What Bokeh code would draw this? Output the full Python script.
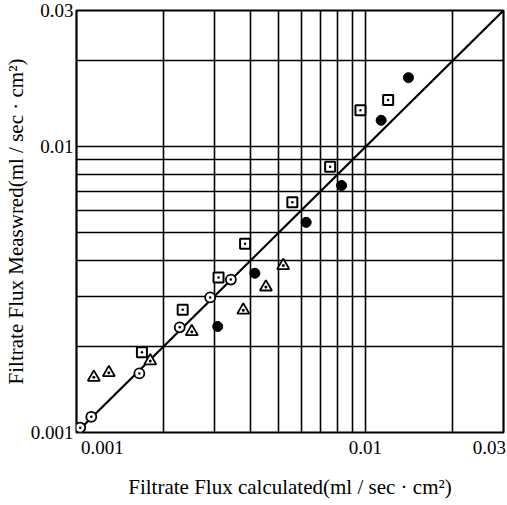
from bokeh.plotting import figure
from bokeh.models import FixedTicker, CustomJSTickFormatter
from bokeh.embed import file_html
from bokeh.resources import INLINE

# ---------------- data ----------------
open_circle_x = [0.00103, 0.001125, 0.00165, 0.002275, 0.0029, 0.00342]
open_circle_y = [0.00104, 0.001135, 0.00161, 0.002334, 0.00297, 0.00343]

open_square_x = [0.001684, 0.00233, 0.0031, 0.00383, 0.00558, 0.00754, 0.0096, 0.01197]
open_square_y = [0.00191, 0.00269, 0.00349, 0.00458, 0.0064, 0.00851, 0.01343, 0.01459]

filled_circle_x = [0.00308, 0.00414, 0.00623, 0.00826, 0.01132, 0.01407]
filled_circle_y = [0.00235, 0.00361, 0.00544, 0.00732, 0.01238, 0.01746]

triangle_x = [0.001148, 0.001294, 0.001799, 0.002505, 0.003775, 0.00452, 0.00519]
triangle_y = [0.00156, 0.00162, 0.00178, 0.002254, 0.00268, 0.00323, 0.00384]

ideal_x = [0.001, 0.03]          # y = x line
ideal_y = [0.001, 0.03]

grid_values = [0.002, 0.003, 0.004, 0.005, 0.006, 0.007, 0.008, 0.009, 0.01, 0.02]
y_ticks = [0.001, 0.01, 0.03]
y_tick_labels = ["0.001", "0.01", "0.03"]
# the printed x labels sit shifted inward from the frame corners in the source
x_tick_label_pos = [0.00123, 0.00999, 0.0268]
x_tick_labels = ["0.001", "0.01", "0.03"]

x_title = "Filtrate Flux calculated(ml / sec · cm²)"
y_title = "Filtrate Flux Measwred(ml / sec · cm²)"

X_RANGE = (0.001, 0.03)
Y_RANGE = (0.001, 0.03)

# ---------------- layout ----------------
FIG_W, FIG_H = 507, 505
BL, BR, BT, BB = 75, 4, 10, 73
FONT = "Liberation Serif"

p = figure(width=FIG_W, height=FIG_H,
           x_axis_type="log", y_axis_type="log",
           x_range=X_RANGE, y_range=Y_RANGE,
           output_backend="svg", toolbar_location=None,
           min_border_left=BL, min_border_right=BR,
           min_border_top=BT, min_border_bottom=BB)

p.background_fill_color = "white"
p.border_fill_color = "white"
p.outline_line_color = "black"
p.outline_line_width = 2.2

# grid (log paper)
for g in (p.xgrid[0], p.ygrid[0]):
    g.ticker = FixedTicker(ticks=grid_values)
    g.grid_line_color = "black"
    g.grid_line_width = 1.6
    g.grid_line_alpha = 1.0


def style_axis(ax):
    ax.major_tick_out = 0
    ax.major_tick_in = 0
    ax.minor_tick_out = 0
    ax.minor_tick_in = 0
    ax.axis_line_color = None
    ax.major_label_text_font = FONT
    ax.major_label_text_font_size = "19px"
    ax.major_label_text_color = "black"
    ax.axis_label_text_font = FONT
    ax.axis_label_text_font_size = "21px"
    ax.axis_label_text_font_style = "normal"
    ax.axis_label_text_color = "black"


# y axis
ya = p.yaxis[0]
style_axis(ya)
ya.ticker = FixedTicker(ticks=y_ticks, minor_ticks=[])
ya.formatter = CustomJSTickFormatter(args=dict(labels=y_tick_labels),
                                     code="return labels[index];")
ya.major_label_standoff = 3
ya.axis_label = y_title
ya.axis_label_standoff = 0

# x axis
xa = p.xaxis[0]
style_axis(xa)
xa.ticker = FixedTicker(ticks=x_tick_label_pos, minor_ticks=[])
xa.formatter = CustomJSTickFormatter(args=dict(labels=x_tick_labels),
                                     code="return labels[index];")
xa.major_label_standoff = 8
xa.axis_label = x_title
xa.axis_label_standoff = 18

# ---------------- marks ----------------
p.line(ideal_x, ideal_y, line_color="black", line_width=2.2)

p.scatter(open_circle_x, open_circle_y, marker="circle_dot", size=10,
          fill_color="white", line_color="black", line_width=1.8)
p.scatter(open_square_x, open_square_y, marker="square_dot", size=10,
          fill_color="white", line_color="black", line_width=2)
p.scatter(filled_circle_x, filled_circle_y, marker="circle", size=10,
          fill_color="black", line_color="black", line_width=1)
p.scatter(triangle_x, triangle_y, marker="triangle_dot", size=12,
          fill_color="white", line_color="black", line_width=1.8)

open("out.html", "w").write(file_html(p, INLINE))
